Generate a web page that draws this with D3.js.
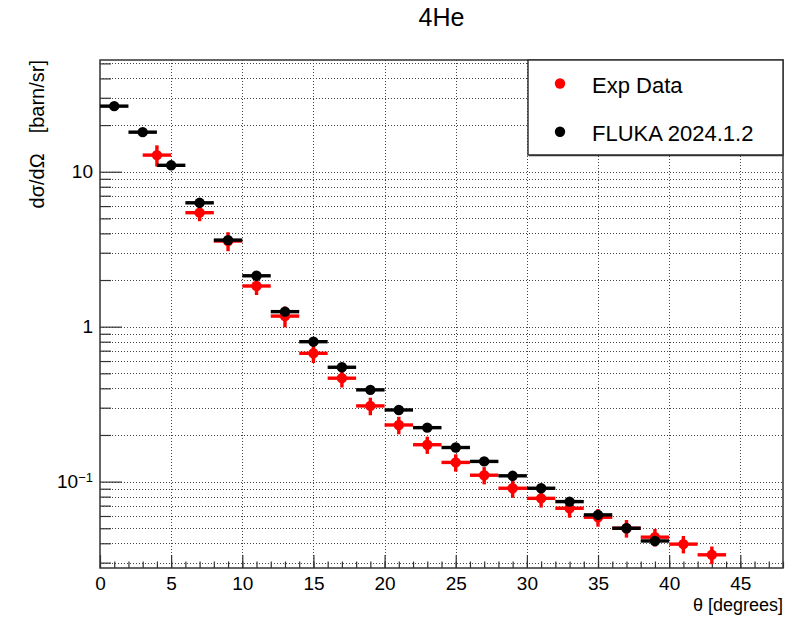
<!DOCTYPE html>
<html>
<head>
<meta charset="utf-8">
<script src="https://cdn.jsdelivr.net/npm/d3@7"></script>
<style>
  html, body { margin: 0; padding: 0; background: #fff; }
  svg { display: block; font-family: "Liberation Sans", Arial, Helvetica, sans-serif; }
</style>
</head>
<body>
<svg id="chart" width="805" height="619"></svg>
<script>
// ---------------- data ----------------
const chartTitle = "4He";
const xTitle = "θ [degrees]";
const yTitleMain = "dσ/dΩ";
const yTitleUnit = "[barn/sr]";
const seriesNames = ["Exp Data", "FLUKA 2024.1.2"];
const seriesColors = ["#ff0000", "#000000"];

const flukaTheta  = [1, 3, 5, 7, 9, 11, 13, 15, 17, 19, 21, 23, 25, 27, 29, 31, 33, 35, 37, 39];
const flukaValues = [26.5, 18.0, 11.0, 6.3, 3.62, 2.13, 1.25, 0.80, 0.547, 0.391, 0.290, 0.223, 0.166, 0.135, 0.109, 0.0906, 0.0743, 0.061, 0.050, 0.0414];
const flukaThetaErr = [1, 1, 1, 1, 1, 1, 1, 1, 1, 1, 1, 1, 1, 1, 1, 1, 1, 1, 1, 1];

const expTheta  = [4, 7, 9, 11, 13, 15, 17, 19, 21, 23, 25, 27, 29, 31, 33, 35, 37, 39, 41, 43];
const expValues = [12.8, 5.44, 3.57, 1.83, 1.17, 0.673, 0.465, 0.308, 0.232, 0.173, 0.133, 0.110, 0.0906, 0.078, 0.0673, 0.0589, 0.050, 0.0438, 0.0395, 0.0337];
const expErr    = [2.0, 0.65, 0.5, 0.23, 0.18, 0.09, 0.06, 0.04, 0.03, 0.022, 0.017, 0.014, 0.012, 0.010, 0.0088, 0.0077, 0.0065, 0.0057, 0.0051, 0.0044];
const expThetaErr = [1, 1, 1, 1, 1, 1, 1, 1, 1, 1, 1, 1, 1, 1, 1, 1, 1, 1, 1, 1];

const xDomain = [0, 48];
const yDomain = [0.0277, 52.6];
const xMajorTicks = [0, 5, 10, 15, 20, 25, 30, 35, 40, 45];
const yMajorTicks = [0.1, 1, 10];

// ---------------- layout ----------------
const frame = { left: 100, right: 783, top: 60, bottom: 568 };
const svg = d3.select("#chart");

const x = d3.scaleLinear().domain(xDomain).range([frame.left, frame.right]);
const y = d3.scaleLog().domain(yDomain).range([frame.bottom, frame.top]);

const xMinorTicks = d3.range(xDomain[0], xDomain[1] + 0.001, 1);
const yAllTicks = y.ticks(20).filter(v => v >= yDomain[0] && v <= yDomain[1]);
const yMinorTicks = yAllTicks.filter(v => !yMajorTicks.some(m => Math.abs(m - v) / m < 1e-6));

// ---------------- grid ----------------
const grid = svg.append("g").attr("stroke", "#444").attr("stroke-width", 1).attr("stroke-dasharray", "1,2");
grid.selectAll("line.gx").data(xMajorTicks.filter(v => v > xDomain[0])).join("line")
  .attr("x1", d => Math.round(x(d)) + 0.5).attr("x2", d => Math.round(x(d)) + 0.5)
  .attr("y1", frame.top).attr("y2", frame.bottom);
grid.selectAll("line.gy").data(yAllTicks).join("line")
  .attr("x1", frame.left).attr("x2", frame.right)
  .attr("y1", d => Math.round(y(d)) + 0.5).attr("y2", d => Math.round(y(d)) + 0.5);

// ---------------- axes ----------------
const axisColor = "#333";
const fontTick = 19;

const gxMinor = svg.append("g").attr("transform", `translate(0,${frame.bottom})`)
  .call(d3.axisBottom(x).tickValues(xMinorTicks).tickSize(-6.5).tickFormat(""));
const gx = svg.append("g").attr("transform", `translate(0,${frame.bottom})`)
  .call(d3.axisBottom(x).tickValues(xMajorTicks).tickSize(-13).tickPadding(9).tickFormat(d3.format("d")));
[gxMinor, gx].forEach(g => {
  g.select(".domain").remove();
  g.selectAll("line").attr("stroke", axisColor).attr("stroke-width", 1.2);
});
gx.selectAll("text").attr("font-size", fontTick).attr("fill", "#000").attr("font-family", "Liberation Sans, Arial, sans-serif");

const gyMinor = svg.append("g").attr("transform", `translate(${frame.left},0)`)
  .call(d3.axisLeft(y).tickValues(yMinorTicks).tickSize(-11).tickFormat(""));
const gy = svg.append("g").attr("transform", `translate(${frame.left},0)`)
  .call(d3.axisLeft(y).tickValues(yMajorTicks).tickSize(-22).tickPadding(7).tickFormat(d => d >= 1 ? String(d) : ""));
[gyMinor, gy].forEach(g => {
  g.select(".domain").remove();
  g.selectAll("line").attr("stroke", axisColor).attr("stroke-width", 1.2);
});
gy.selectAll("text").attr("font-size", fontTick).attr("fill", "#000").attr("font-family", "Liberation Sans, Arial, sans-serif");
gy.selectAll(".tick").filter(d => d < 1).select("text").each(function() {
  const t = d3.select(this);
  t.text(null);
  t.append("tspan").text("10");
  t.append("tspan").attr("dy", "-0.45em").attr("font-size", 13).text("−1");
});

svg.append("rect")
  .attr("x", frame.left).attr("y", frame.top)
  .attr("width", frame.right - frame.left).attr("height", frame.bottom - frame.top)
  .attr("fill", "none").attr("stroke", axisColor).attr("stroke-width", 1.5);

// ---------------- data series ----------------
function drawSeries(thetas, values, thetaErr, yErr, color) {
  const g = svg.append("g");
  const pts = thetas.map((t, i) => ({ t, v: values[i], dt: thetaErr[i], dv: yErr ? yErr[i] : 0 }));
  g.selectAll("line.h").data(pts).join("line")
    .attr("x1", d => x(Math.max(xDomain[0], d.t - d.dt))).attr("x2", d => x(d.t + d.dt))
    .attr("y1", d => y(d.v)).attr("y2", d => y(d.v))
    .attr("stroke", color).attr("stroke-width", 3.4);
  g.selectAll("line.v").data(pts.filter(d => d.dv > 0)).join("line")
    .attr("x1", d => x(d.t)).attr("x2", d => x(d.t))
    .attr("y1", d => y(d.v - d.dv)).attr("y2", d => y(d.v + d.dv))
    .attr("stroke", color).attr("stroke-width", 3.4);
  g.selectAll("circle").data(pts).join("circle")
    .attr("cx", d => x(d.t)).attr("cy", d => y(d.v)).attr("r", 5.2)
    .attr("fill", color);
}
drawSeries(expTheta, expValues, expThetaErr, expErr, seriesColors[0]);
drawSeries(flukaTheta, flukaValues, flukaThetaErr, null, seriesColors[1]);

// ---------------- titles ----------------
svg.append("text").attr("x", 441.5).attr("y", 26).attr("text-anchor", "middle")
  .attr("font-size", 25).attr("fill", "#000").text(chartTitle);

svg.append("text").attr("x", frame.right).attr("y", 611).attr("text-anchor", "end")
  .attr("font-size", 18).attr("fill", "#000").text(xTitle);

const yt = svg.append("text").attr("transform", "rotate(-90)")
  .attr("x", -frame.top).attr("y", 44).attr("text-anchor", "end")
  .attr("font-size", 20).attr("fill", "#000");
yt.append("tspan").text(yTitleMain);
yt.append("tspan").attr("dx", 20).text(yTitleUnit);

// ---------------- legend ----------------
const leg = { x0: 528, x1: 783, y0: 60, y1: 155 };
svg.append("rect").attr("x", leg.x0).attr("y", leg.y0)
  .attr("width", leg.x1 - leg.x0).attr("height", leg.y1 - leg.y0)
  .attr("fill", "#fff").attr("stroke", axisColor).attr("stroke-width", 1.5);
svg.append("line").attr("x1", leg.x0 + 1).attr("x2", leg.x1).attr("y1", leg.y1 + 0.5).attr("y2", leg.y1 + 0.5)
  .attr("stroke", axisColor).attr("stroke-width", 1.5);
const legRows = [83.5, 131.7];
seriesNames.forEach((name, i) => {
  svg.append("circle").attr("cx", 560).attr("cy", legRows[i]).attr("r", 5.2).attr("fill", seriesColors[i]);
  svg.append("text").attr("x", 592).attr("y", legRows[i] + 9.5)
    .attr("font-size", 22).attr("fill", "#000").text(name);
});
</script>
</body>
</html>
